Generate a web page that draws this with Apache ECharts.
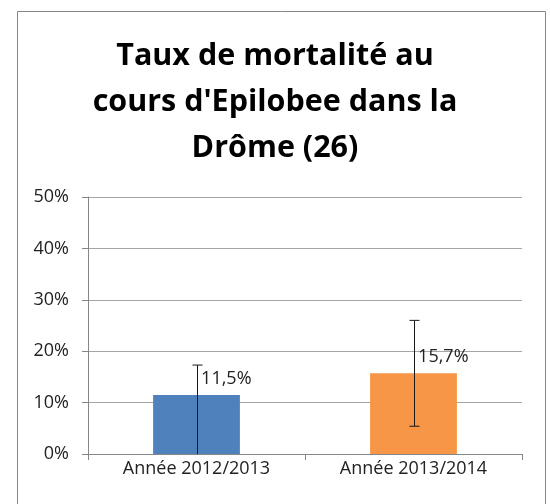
<!DOCTYPE html>
<html>
<head>
<meta charset="utf-8">
<script src="https://cdn.jsdelivr.net/npm/echarts@6/dist/echarts.min.js"></script>
<style>
  html, body { margin: 0; padding: 0; background: #fff; }
  #chart { width: 550px; height: 504px; }
</style>
</head>
<body>
<div id="chart"></div>
<script>
const categories = ["Année 2012/2013", "Année 2013/2014"];
const rates = [11.5, 15.7];
const errLow = [0, 5.4];
const errHigh = [17.3, 26.0];
const barColors = ["#4F81BD", "#F79646"];
const yTicks = [0, 10, 20, 30, 40, 50];

const chart = echarts.init(document.getElementById("chart"));
const font = "'Open Sans', 'DejaVu Sans', sans-serif";

const option = {
  animation: false,
  graphic: [
    {
      type: "rect",
      shape: { x: 17.5, y: 11.5, width: 528, height: 520 },
      style: { fill: "none", stroke: "#868686", lineWidth: 1 },
    },
  ],
  title: {
    text: "Taux de mortalité au\ncours d'Epilobee dans la\nDrôme (26)",
    left: "center",
    top: 28,
    textStyle: {
      fontFamily: font,
      fontWeight: "bold",
      fontSize: 30.5,
      lineHeight: 46,
      color: "#000",
    },
  },
  grid: { left: 88, right: 28, top: 197, bottom: 50 },
  xAxis: {
    type: "category",
    data: categories,
    axisLine: { lineStyle: { color: "#868686" } },
    axisTick: { show: true, length: 6, lineStyle: { color: "#868686" } },
    axisLabel: { fontFamily: font, fontSize: 18, color: "#222", margin: 6 },
  },
  yAxis: {
    type: "value",
    min: 0,
    max: 50,
    interval: 10,
    axisLine: { show: true, lineStyle: { color: "#868686" } },
    axisTick: { show: true, length: 6, lineStyle: { color: "#868686" } },
    splitLine: { lineStyle: { color: "#A6A6A6" } },
    axisLabel: {
      fontFamily: font,
      fontSize: 18,
      color: "#222",
      margin: 19,
      formatter: (v) => (yTicks.includes(v) ? v + "%" : ""),
    },
  },
  series: [
    {
      type: "bar",
      data: rates.map((v, i) => ({ value: v, itemStyle: { color: barColors[i] } })),
      barWidth: "40%",
      label: {
        show: true,
        position: [48, -16],
        verticalAlign: "middle",
        align: "left",
        fontFamily: font,
        fontSize: 18,
        color: "#222",
        formatter: (p) => p.value.toFixed(1).replace(".", ",") + "%",
      },
      z: 2,
    },
    {
      type: "custom",
      data: categories.map((c, i) => [i, errLow[i], errHigh[i]]),
      renderItem: (params, api) => {
        const lo = api.coord([api.value(0), api.value(1)]);
        const hi = api.coord([api.value(0), api.value(2)]);
        const x = Math.round(hi[0]) + 0.5;
        const cap = 5;
        const children = [
          { type: "line", shape: { x1: x, y1: lo[1], x2: x, y2: hi[1] } },
          { type: "line", shape: { x1: x - cap, y1: hi[1], x2: x + cap, y2: hi[1] } },
        ];
        if (api.value(1) > 0) {
          children.push({ type: "line", shape: { x1: x - cap, y1: lo[1], x2: x + cap, y2: lo[1] } });
        }
        children.forEach((c) => (c.style = { stroke: "#1a1a1a", lineWidth: 1 }));
        return { type: "group", children };
      },
      z: 3,
    },
  ],
};
chart.setOption(option);
</script>
</body>
</html>
